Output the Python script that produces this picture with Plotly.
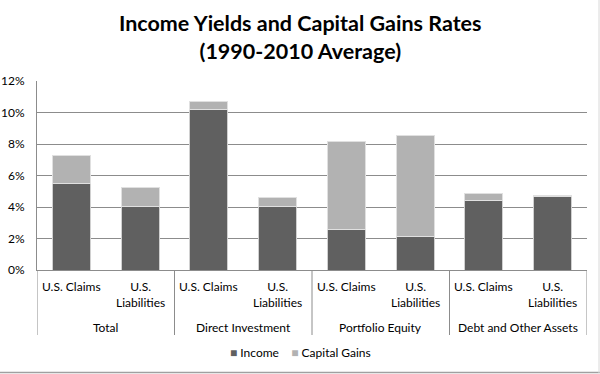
import plotly.graph_objects as go

groups = ["Total", "Total", "Direct Investment", "Direct Investment",
          "Portfolio Equity", "Portfolio Equity", "Debt and Other Assets", "Debt and Other Assets"]
subcats = ["U.S. Claims", "U.S.<br>Liabilities"] * 4
income = [5.47, 4.04, 10.21, 4.04, 2.57, 2.13, 4.42, 4.66]
capital_gains = [1.80, 1.17, 0.49, 0.58, 5.60, 6.44, 0.43, 0.08]
y_ticks = [0, 2, 4, 6, 8, 10, 12]
y_labels = ["0%", "2%", "4%", "6%", "8%", "10%", "12%"]
series_names = ["Income", "Capital Gains"]
series_colors = ["#606060", "#b2b2b2"]

keys = [f"{g}|{s}" for g, s in zip(groups, subcats)]
font = "Lato, Open Sans, sans-serif"
grid = "#8c8c8c"

# plot-area geometry (pixels) for paper-coordinate conversions
W, H = 600, 374
L, R, T, B = 37, 13, 81, 104
ph = H - T - B
def py(pix):  # pixel y from top -> paper y
    return (H - B - pix) / ph
pw = W - L - R
def px(pix):
    return (pix - L) / pw

fig = go.Figure()
fig.add_trace(go.Bar(x=keys, y=income, name=series_names[0],
                     marker=dict(color=series_colors[0], line=dict(color="#d0d0d0", width=1))))
fig.add_trace(go.Bar(x=keys, y=capital_gains, name=series_names[1],
                     marker=dict(color=series_colors[1], line=dict(color="#e0e0e0", width=1))))

fig.update_layout(
    width=W, height=H, barmode="stack", bargap=0.45,
    plot_bgcolor="white", paper_bgcolor="white",
    margin=dict(l=L, r=R, t=T, b=B),
    font=dict(family=font, size=12, color="black"),
    showlegend=False,
)
fig.update_yaxes(range=[0, 12], tickvals=y_ticks, ticktext=y_labels,
                 showgrid=True, gridcolor=grid, gridwidth=1,
                 showline=True, linecolor=grid, linewidth=1, zeroline=False,
                 ticks="outside", ticklen=9, tickcolor="rgba(0,0,0,0)", automargin=False)
fig.update_xaxes(showticklabels=False, showline=True, linecolor=grid, linewidth=1,
                 automargin=False, range=[-0.5, len(keys) - 0.5])

# title
fig.add_annotation(text="<b>Income Yields and Capital Gains Rates<br>(1990-2010 Average)</b>",
                   xref="paper", yref="paper", x=px(300), y=py(8), xanchor="center", yanchor="top",
                   showarrow=False, font=dict(size=21.5, family=font, color="black"))

# category tick labels
for k, s in zip(keys, subcats):
    fig.add_annotation(text=s, x=k, xref="x", yref="paper", y=py(277), yanchor="top",
                       xanchor="center", showarrow=False, font=dict(size=12))

# group labels and dividers
seen = []
for g in groups:
    if g not in seen:
        seen.append(g)
idx = 0
for g in seen:
    n = groups.count(g)
    fig.add_annotation(text=g, x=(idx + idx + n - 1) / 2, xref="x", yref="paper", y=py(327),
                       yanchor="middle", xanchor="center", showarrow=False, font=dict(size=12))
    idx += n
bounds = [-0.5]
idx = 0
for g in seen:
    idx += groups.count(g)
    bounds.append(idx - 0.5)
for b in bounds:
    fig.add_shape(type="line", xref="x", yref="paper", x0=b, x1=b, y0=0, y1=py(335),
                  line=dict(color=grid, width=1))

# legend
fig.add_annotation(
    text=(f"<span style='color:{series_colors[0]}'>■</span> {series_names[0]}"
          f"&nbsp;&nbsp;&nbsp;&nbsp;<span style='color:{series_colors[1]}'>■</span> {series_names[1]}"),
    xref="paper", yref="paper", x=px(300), y=py(352), xanchor="center", yanchor="middle",
    showarrow=False, font=dict(size=12))

# chart border (bottom and right)
fig.add_shape(type="line", xref="paper", yref="paper", x0=px(0), x1=px(600), y0=py(372.5), y1=py(372.5),
              line=dict(color="#a0a0a0", width=1.5))
fig.add_shape(type="line", xref="paper", yref="paper", x0=px(599), x1=px(599), y0=py(0), y1=py(373),
              line=dict(color="#d8d8d8", width=1))

fig.write_html("out.html", config={"displayModeBar": False},
               post_script="document.body.style.margin='0';document.body.style.overflow='hidden';")
